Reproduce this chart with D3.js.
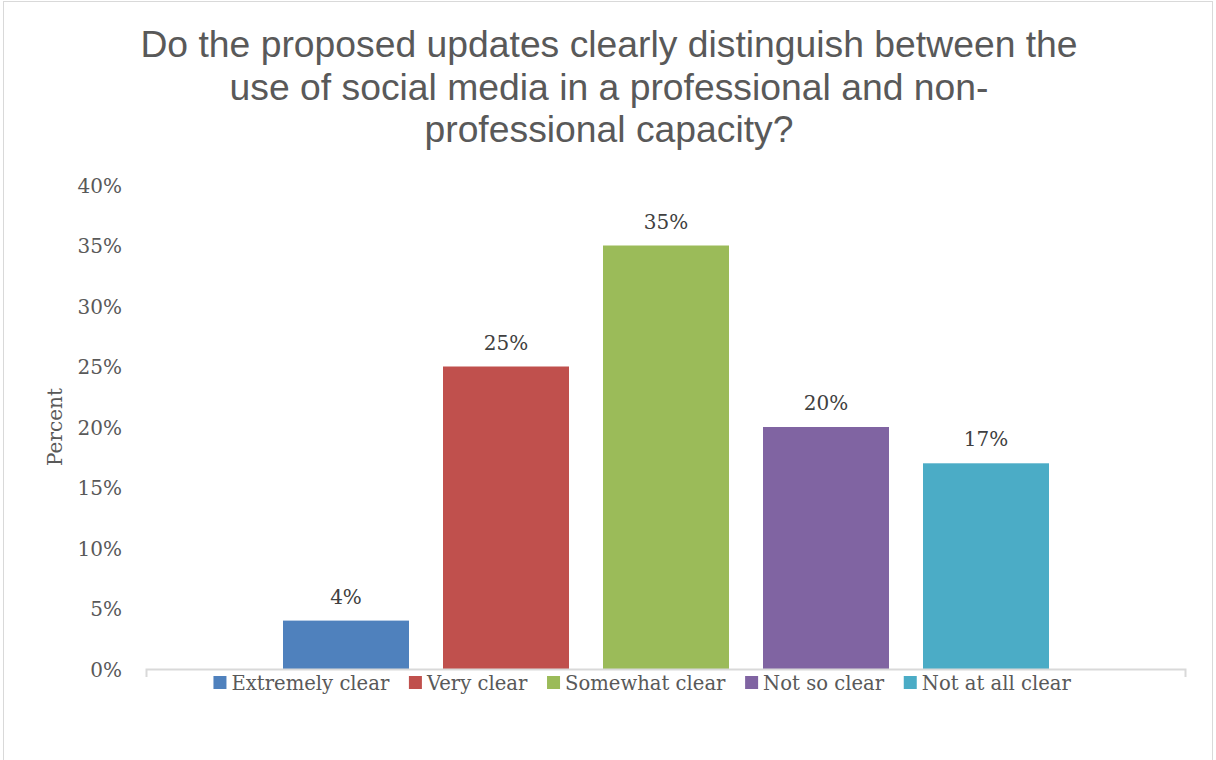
<!DOCTYPE html>
<html><head><meta charset="utf-8">
<script src="https://cdn.jsdelivr.net/npm/d3@7"></script>
<style>
html,body{margin:0;padding:0;background:#fff;}
svg{display:block;}
</style></head>
<body>
<svg id="chart" width="1216" height="760"></svg>
<script>
const categories = ["Extremely clear","Very clear","Somewhat clear","Not so clear","Not at all clear"];
const values = [4, 25, 35, 20, 17];
const colors = ["#4F81BD","#C0504D","#9BBB59","#8064A2","#4BACC6"];
const yTicks = [0,5,10,15,20,25,30,35,40];
const titleLines = ["Do the proposed updates clearly distinguish between the","use of social media in a professional and non-","professional capacity?"];
const yLabel = "Percent";

const svg = d3.select("#chart");
const serif = "'DejaVu Serif', 'Liberation Serif', serif";
const sans = "'Liberation Sans', Arial, sans-serif";
const textCol = "#595959";
const fs = 20;

// border
svg.append("rect").attr("x",3.5).attr("y",1.5).attr("width",1209).attr("height",770)
  .attr("fill","none").attr("stroke","#d9d9d9").attr("stroke-width",1);

const plot = {left:146, right:1186, top:185, bottom:669};
const y = d3.scaleLinear().domain([0,40]).range([plot.bottom, plot.top]);
const xInner = d3.scaleBand().domain(categories).range([266, 1066])
  .paddingInner(34/160).paddingOuter(17/160);

// title
svg.append("text").attr("x",609).attr("y",57).attr("text-anchor","middle")
  .attr("font-family",sans).attr("font-size",37.3).attr("fill",textCol)
  .selectAll("tspan").data(titleLines).join("tspan")
  .attr("x",609).attr("dy",(d,i)=>i===0?0:42.5).text(d=>d);

// y axis ticks
const yAxis = d3.axisLeft(y).tickValues(yTicks).tickFormat(d=>d+"%").tickSize(0).tickPadding(24);
const gy = svg.append("g").attr("transform",`translate(${plot.left},0)`).call(yAxis);
gy.select(".domain").remove();
gy.selectAll("text").attr("font-family",serif).attr("font-size",fs).attr("fill",textCol).attr("dy","0.35em");

// y label
svg.append("text").attr("transform",`translate(62,${(plot.top+plot.bottom)/2}) rotate(-90)`)
  .attr("text-anchor","middle").attr("font-family",serif).attr("font-size",fs).attr("fill",textCol).text(yLabel);

// bars
svg.selectAll("rect.bar").data(categories).join("rect").attr("class","bar")
  .attr("x",d=>xInner(d)).attr("width",xInner.bandwidth())
  .attr("y",(d,i)=>y(values[i])).attr("height",(d,i)=>y(0)-y(values[i]))
  .attr("fill",(d,i)=>colors[i]);

// data labels
svg.selectAll("text.lbl").data(categories).join("text").attr("class","lbl")
  .attr("x",d=>xInner(d)+xInner.bandwidth()/2).attr("y",(d,i)=>y(values[i])-17)
  .attr("text-anchor","middle").attr("font-family",serif).attr("font-size",fs).attr("fill","#404040")
  .text((d,i)=>values[i]+"%");

// x axis
const gx = svg.append("g").attr("transform",`translate(0,${plot.bottom})`);
gx.append("path").attr("d",`M${plot.left+0.5},8V0.5H${plot.right-0.5}V8`).attr("fill","none").attr("stroke","#d9d9d9").attr("stroke-width",2);

// legend
const lg = svg.append("g");
const items = lg.selectAll("g").data(categories).join("g");
items.append("rect").attr("width",13).attr("height",13).attr("y",-7).attr("fill",(d,i)=>colors[i]);
items.append("text").attr("x",18).attr("dy","0.35em").attr("font-family",serif).attr("font-size",19.6).attr("fill",textCol).text(d=>d);
let cx = 0; const gap = 19; const pos=[];
items.each(function(d){ const w = this.getBBox().width; pos.push(cx); cx += w + gap; });
const total = cx - gap;
items.attr("transform",(d,i)=>`translate(${pos[i]},0)`);
lg.attr("transform",`translate(${642.5-total/2},683)`);
</script>
</body></html>
